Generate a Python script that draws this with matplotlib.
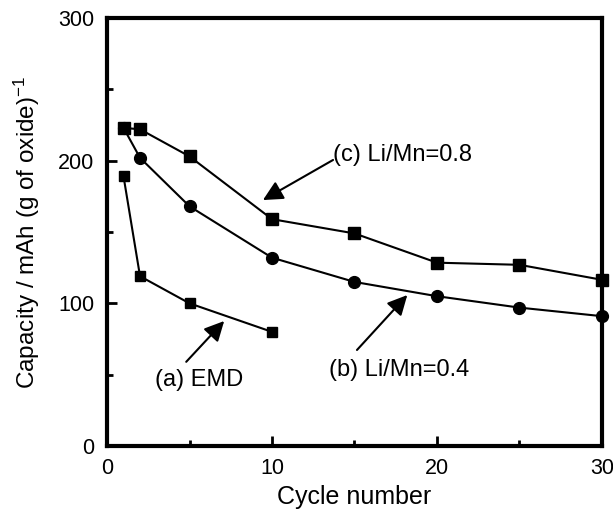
import matplotlib
matplotlib.use("Agg")
import matplotlib.pyplot as plt
from matplotlib.ticker import MultipleLocator

plt.rcParams['font.family'] = ['Liberation Sans', 'DejaVu Sans']
plt.rcParams['mathtext.fontset'] = 'custom'
plt.rcParams['mathtext.rm'] = 'Liberation Sans'
plt.rcParams['mathtext.it'] = 'Liberation Sans'

# (a) EMD
cyc_a = [1, 2, 5, 10]
cap_a = [189, 119, 100, 80]
# (b) Li/Mn=0.4
cyc_b = [1, 2, 5, 10, 15, 20, 25, 30]
cap_b = [223, 202, 168, 132, 115, 105, 97, 91]
# (c) Li/Mn=0.8
cyc_c = [1, 2, 5, 10, 15, 20, 25, 30]
cap_c = [223, 222, 203, 159, 149, 128.5, 127, 116.5]

fig = plt.figure(figsize=(6.13, 5.15), dpi=100)
ax = fig.add_axes([0.1746, 0.134, 0.8074, 0.831])

ax.plot(cyc_a, cap_a, 'k-', marker='s', markersize=6.5, linewidth=1.5, clip_on=False)
ax.plot(cyc_b, cap_b, 'k-', marker='o', markersize=8.5, linewidth=1.5, clip_on=False)
ax.plot(cyc_c, cap_c, 'k-', marker='s', markersize=8.5, linewidth=1.5, clip_on=False)

arrow = dict(arrowstyle='-|>', color='k', lw=1.5, mutation_scale=30, shrinkA=0, shrinkB=0)
ax.annotate('', xy=(7.1, 87.6), xytext=(4.8, 59), arrowprops=arrow)
ax.text(5.6, 46, '(a) EMD', fontsize=17, ha='center', va='center')
ax.annotate('', xy=(18.2, 105.8), xytext=(15.15, 67.3), arrowprops=arrow)
ax.text(17.7, 53.3, '(b) Li/Mn=0.4', fontsize=17, ha='center', va='center')
ax.annotate('', xy=(9.45, 172.4), xytext=(13.7, 200.5), arrowprops=arrow)
ax.text(17.9, 204, '(c) Li/Mn=0.8', fontsize=17, ha='center', va='center')

ax.set_xlim(0, 30)
ax.set_ylim(0, 300)
ax.xaxis.set_major_locator(MultipleLocator(10))
ax.xaxis.set_minor_locator(MultipleLocator(5))
ax.yaxis.set_major_locator(MultipleLocator(100))
ax.yaxis.set_minor_locator(MultipleLocator(50))
ax.tick_params(which='major', direction='in', length=7, width=2, labelsize=15.5, pad=9)
ax.tick_params(which='minor', direction='in', length=4, width=2)
for s in ax.spines.values():
    s.set_linewidth(3)

ax.set_xlabel('Cycle number', fontsize=18, labelpad=4)
ax.set_ylabel('Capacity / mAh (g of oxide)$^{-1}$', fontsize=17.5, labelpad=12)

fig.savefig('out.png', dpi=100)
